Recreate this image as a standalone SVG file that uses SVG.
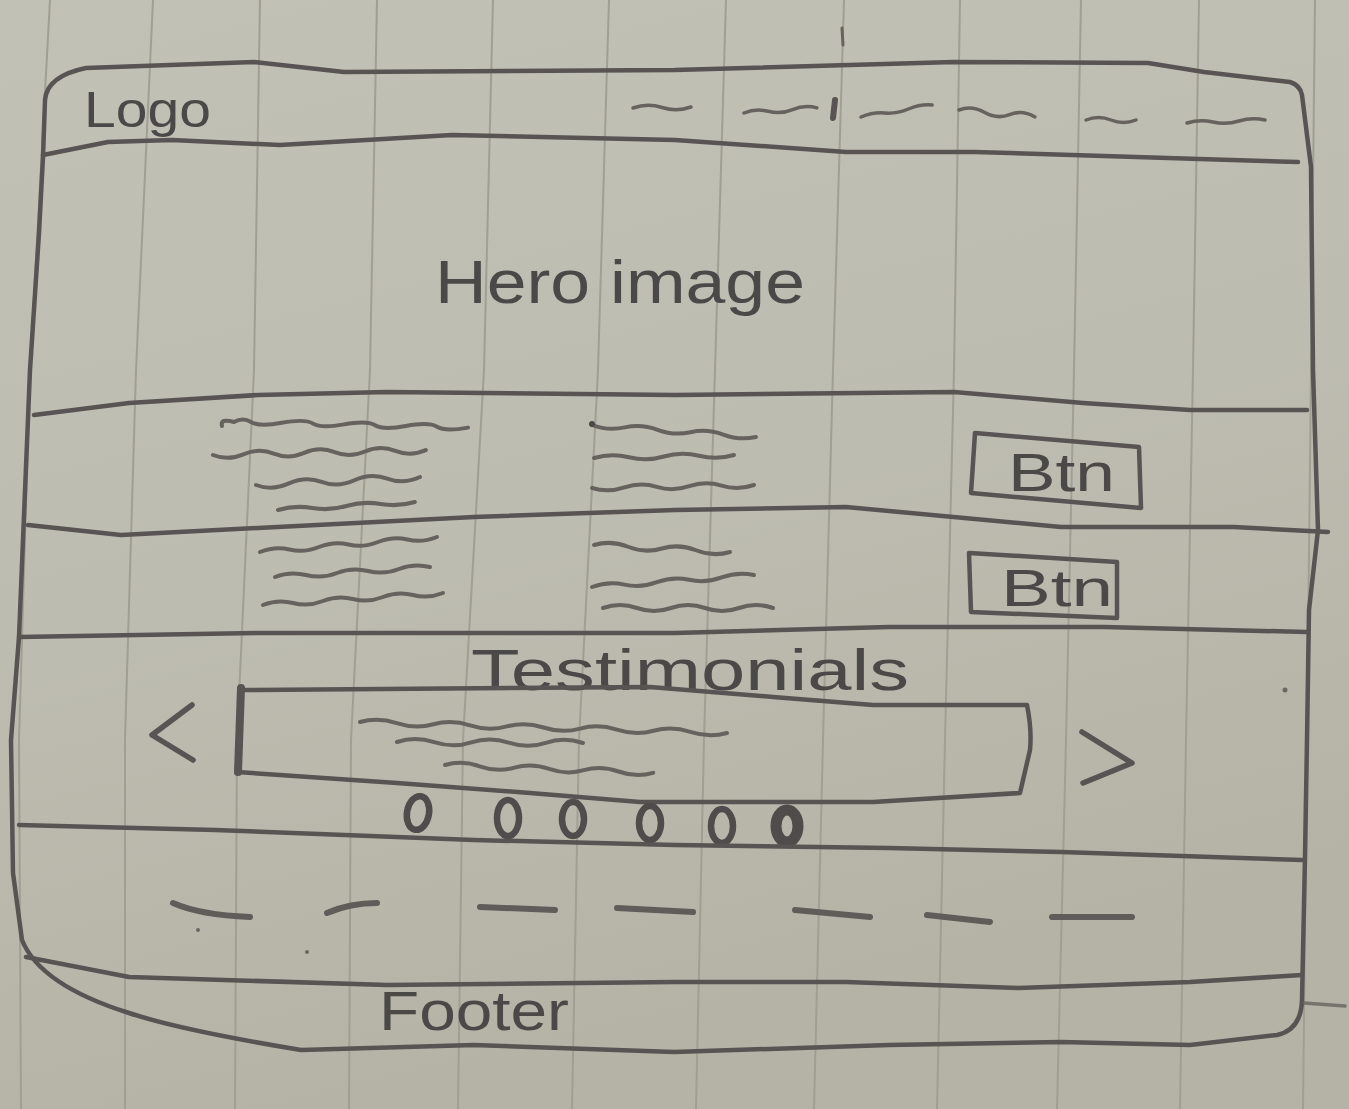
<svg xmlns="http://www.w3.org/2000/svg" width="1349" height="1109" viewBox="0 0 1349 1109">
  <defs>
    <linearGradient id="paperTone" x1="0" y1="0" x2="0.3" y2="1">
      <stop offset="0" stop-color="#c2c1b5"/>
      <stop offset="0.55" stop-color="#bdbcb0"/>
      <stop offset="1" stop-color="#b5b3a6"/>
    </linearGradient>
    <style>
      .rule { stroke: #a09f93; stroke-width: 2; fill: none; }
      .pen { stroke: #575453; stroke-width: 4.5; fill: none; stroke-linecap: round; stroke-linejoin: round; }
      .soft { stroke: #66635f; stroke-width: 3.5; fill: none; stroke-linecap: round; stroke-linejoin: round; }
      .scribble { stroke-width: 4; }
      .smear { stroke: #5f5c5a; stroke-width: 6; fill: none; stroke-linecap: round; }
      .dot { stroke: #4f4c4b; stroke-width: 6.5; fill: none; }
      .hand { font-family: "Liberation Sans", "DejaVu Sans", sans-serif; fill: #4b4948; }
    </style>
  </defs>

  <!-- notebook paper -->
  <rect id="paper" x="0" y="0" width="1349" height="1109" fill="url(#paperTone)"/>

  <!-- vertical ruling -->
  <g id="ruling" class="rule">
    <polyline points="50,0 30,370 19,740 21,1109"/>
    <polyline points="153,0 136,370 125,740 125,1109"/>
    <polyline points="260,0 254,370 237,740 235,1109"/>
    <polyline points="377,0 370,370 351,740 349,1109"/>
    <polyline points="493,0 484,370 463,740 458,1109"/>
    <polyline points="609,0 598,370 579,740 572,1109"/>
    <polyline points="726,0 715,370 704,740 696,1109"/>
    <polyline points="844,0 833,370 823,740 814,1109"/>
    <polyline points="960,0 954,370 945,740 937,1109"/>
    <polyline points="1081,0 1074,370 1066,740 1057,1109"/>
    <polyline points="1199,0 1193,370 1186,740 1180,1109"/>
    <polyline points="1315,0 1311,370 1307,740 1303,1109"/>
  </g>

  <!-- page outline -->
  <g id="frame">
    <path class="pen" d="M45 100 Q47 76 86 68 L254 62 L344 72 L675 70 L954 62 L1148 63 L1204 72 L1290 82 Q1300 85 1302 95 L1311 167 L1313 370 L1318 530 L1309 610 L1307 740 L1305 857 L1302 1000 Q1301 1030 1277 1035 L1190 1045 L1061 1042 L889 1045 L674 1052 L474 1045 L301 1050 Q180 1030 129 1013 Q40 985 22 940 L13 873 L11 740 L19 637 L30 370 L39 233 L43 157 Z"/>
    <path class="soft" d="M1304 1003 L1345 1006" style="opacity:0.8"/>
    <path class="soft" d="M842 28 L843 45" style="stroke-width:3"/>
    <path class="pen" d="M835 100 L833 118" style="stroke-width:6"/>
  </g>

  <!-- header bar -->
  <g id="header">
    <path class="pen" d="M43 155 L108 142 L172 140 L280 145 L452 135 L675 140 L846 152 L975 152 L1298 162"/>
    <text class="hand" x="84" y="127" font-size="50" textLength="127" lengthAdjust="spacingAndGlyphs">Logo</text>
    <g id="nav" class="soft">
      <path d="M633 108 q14.5 -5 29 -0.5 t29 -0.5"/>
      <path d="M744 113 q12 -5 24.3 -1.7 t24.3 -1.7 t24.3 -1.7"/>
      <path d="M861 117 q12 -5 23.7 -4 t23.7 -4 t23.7 -4"/>
      <path d="M959 110 q12.6 -5 25.3 2.3 t25.3 2.3 t25.3 2.3"/>
      <path d="M1086 120 q12.5 -5 25 0 t25 0"/>
      <path d="M1187 123 q13 -4 26 -1 t26 -1 t26 -1"/>
    </g>
  </g>

  <!-- hero -->
  <g id="hero">
    <text class="hand" x="435" y="303" font-size="62" textLength="370" lengthAdjust="spacingAndGlyphs">Hero image</text>
    <path class="pen" d="M34 415 L129 403 L258 395 L387 392 L675 395 L954 392 L1083 403 L1190 410 L1307 410"/>
  </g>

  <!-- feature row 1 -->
  <g id="row-1">
    <g class="soft scribble">
      <path d="M222 426 q-2 -8 12 -4 q9 -5 17 0 t31 0.8 t31 0.8 t31 0.8 t31 0.8 t31 0.8 t31 0.8 t31 0.8"/>
      <path d="M213 455 q15 6 30.4 -0.7 t30.4 -0.7 t30.4 -0.7 t30.4 -0.7 t30.4 -0.7 t30.4 -0.7 t30.4 -0.7"/>
      <path d="M256 485 q16 6 32.8 -1.6 t32.8 -1.6 t32.8 -1.6 t32.8 -1.6 t32.8 -1.6"/>
      <path d="M278 510 q17 -5 34.2 -2 t34.2 -2 t34.2 -2 t34.2 -2"/>
      <path d="M592 425 q16 6 32.8 2.4 t32.8 2.4 t32.8 2.4 t32.8 2.4 t32.8 2.4"/>
      <path d="M594 458 q17 -5 35 -0.75 t35 -0.75 t35 -0.75 t35 -0.75"/>
      <path d="M592 488 q16 5 32.4 -0.6 t32.4 -0.6 t32.4 -0.6 t32.4 -0.6 t32.4 -0.6"/>
    </g>
    <circle cx="592" cy="424" r="3" fill="#4b4948"/>
    <g id="btn-1">
      <path class="pen" d="M975 433 L1139 447 L1141 508 L971 493 Z"/>
      <text class="hand" x="1008" y="491" font-size="54" textLength="107" lengthAdjust="spacingAndGlyphs">Btn</text>
    </g>
    <path class="pen" d="M28 525 L121 535 L258 528 L474 517 L675 510 L846 507 L1061 527 L1234 527 L1328 532"/>
  </g>

  <!-- feature row 2 -->
  <g id="row-2">
    <g class="soft scribble">
      <path d="M260 552 q15 -6 29.5 -2.5 t29.5 -2.5 t29.5 -2.5 t29.5 -2.5 t29.5 -2.5 t29.5 -2.5"/>
      <path d="M275 577 q15 -6 31 -2 t31 -2 t31 -2 t31 -2 t31 -2"/>
      <path d="M263 605 q15 -6 30 -2 t30 -2 t30 -2 t30 -2 t30 -2 t30 -2"/>
      <path d="M594 545 q17 -5 34 1.75 t34 1.75 t34 1.75 t34 1.75"/>
      <path d="M592 587 q16 -6 32.4 -2.4 t32.4 -2.4 t32.4 -2.4 t32.4 -2.4 t32.4 -2.4"/>
      <path d="M603 608 q17 -6 34 0 t34 0 t34 0 t34 0 t34 0"/>
    </g>
    <g id="btn-2">
      <path class="pen" d="M969 553 L1117 562 L1117 618 L971 612 Z"/>
      <text class="hand" x="1001" y="606" font-size="52" textLength="112" lengthAdjust="spacingAndGlyphs">Btn</text>
    </g>
    <path class="pen" d="M19 637 L258 633 L675 633 L889 627 L1104 627 L1307 632"/>
  </g>

  <!-- testimonials carousel -->
  <g id="testimonials">
    <text class="hand" x="471" y="690" font-size="58" textLength="438" lengthAdjust="spacingAndGlyphs">Testimonials</text>
    <path class="pen" d="M192 705 L152 735 L193 760" style="stroke-width:5.5"/>
    <path class="pen" d="M1082 732 L1132 763 L1083 783" style="stroke-width:5.5"/>
    <path class="pen" d="M240 690 L650 687 L773 697 L873 705 L1027 705 Q1032 730 1030 750 L1020 793 L873 802 L640 802 L530 793 L397 783 L237 772 Z"/>
    <path class="pen" d="M241 688 L238 772" style="stroke-width:8"/>
    <g class="soft scribble">
      <path d="M360 722 q18 -5 36.7 1.1 t36.7 1.1 t36.7 1.1 t36.7 1.1 t36.7 1.1 t36.7 1.1 t36.7 1.1 t36.7 1.1 t36.7 1.1 t36.7 1.1"/>
      <path d="M397 742 q18 -6 37.2 0.2 t37.2 0.2 t37.2 0.2 t37.2 0.2 t37.2 0.2"/>
      <path d="M445 765 q17 -5 34.7 1.3 t34.7 1.3 t34.7 1.3 t34.7 1.3 t34.7 1.3 t34.7 1.3"/>
    </g>
    <g id="dots">
      <ellipse class="dot" cx="418" cy="813" rx="11" ry="17" transform="rotate(10 418 813)"/>
      <ellipse class="dot" cx="508" cy="818" rx="11" ry="18"/>
      <ellipse class="dot" cx="573" cy="819" rx="11" ry="17"/>
      <ellipse class="dot" cx="650" cy="823" rx="11" ry="17"/>
      <ellipse class="dot" cx="722" cy="826" rx="11" ry="17"/>
      <ellipse class="dot" cx="787" cy="826" rx="11" ry="16" style="stroke-width:11"/>
    </g>
    <path class="pen" d="M19 825 L215 830 L474 840 L675 845 L889 848 L1061 852 L1302 860"/>
    <circle cx="1285" cy="690" r="2.5" fill="#6a6764"/>
  </g>

  <!-- footer links and footer -->
  <g id="footer">
    <g class="smear">
      <path d="M173 903 Q200 915 250 917"/>
      <path d="M327 913 Q350 903 377 903"/>
      <path d="M480 907 L555 910"/>
      <path d="M617 908 L693 912"/>
      <path d="M795 910 L870 917"/>
      <path d="M927 915 L990 922"/>
      <path d="M1052 917 L1132 917"/>
    </g>
    <circle cx="198" cy="930" r="2" fill="#6a6764"/>
    <circle cx="307" cy="952" r="2" fill="#6a6764"/>
    <path class="pen" d="M26 957 L129 977 L387 985 L675 982 L846 982 L1018 988 L1190 982 L1302 975"/>
    <text class="hand" x="379" y="1030" font-size="56" textLength="190" lengthAdjust="spacingAndGlyphs">Footer</text>
  </g>
</svg>
